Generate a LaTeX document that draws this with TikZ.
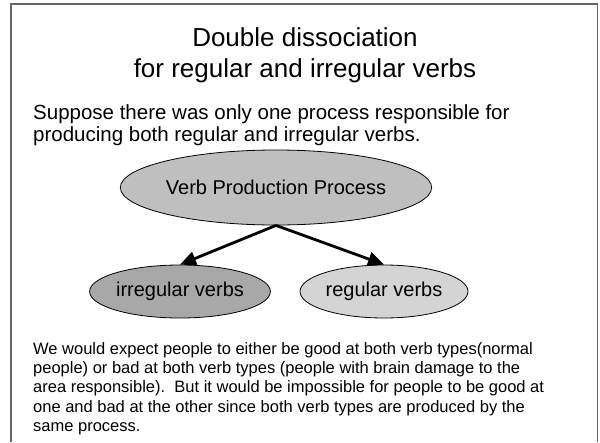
\documentclass[tikz,border=0pt]{standalone}
\usepackage{fontspec}
\setmainfont{Liberation Sans}
\usetikzlibrary{shapes.geometric,arrows.meta,positioning}

\begin{document}
\begin{tikzpicture}[x=1pt,y=-1pt,% y grows downwards, one unit per pixel
        every node/.style={inner sep=0pt},
        verb/.style={ellipse,draw,line width=0.8pt,font=\fontsize{20}{22}\selectfont},
        link/.style={line width=2.8pt,-{Triangle[length=16pt,width=14pt]}}]
\useasboundingbox (0,0) rectangle (600,442);
\draw[line width=1.6pt,draw=black!60] (11,442) -- (11,4) -- (597.5,4) -- (597.5,442); % open frame, no bottom edge
\node[anchor=north,align=center,font=\fontsize{26}{31}\selectfont] (title) at (305,27) {Double dissociation\\for regular and irregular verbs};
\node[anchor=north west,align=left,font=\fontsize{20.5}{22.5}\selectfont] (intro) at (33,104) {Suppose there was only one process responsible for\\producing both regular and irregular verbs.};
\node[verb,fill=black!25,minimum width=296pt,minimum height=75pt] (proc) at (276,187.5) {Verb Production Process};
\node[verb,fill=black!34,minimum width=161pt,minimum height=53pt] (irreg) at (180,291.5) {irregular verbs};
\node[verb,fill=black!17,minimum width=168pt,minimum height=53pt] (reg) at (384,291.5) {regular verbs};
\draw[link] (proc.south) -- (irreg.north);
\draw[link] (proc.south) -- (reg.north);
\node[anchor=north west,align=left,font=\fontsize{16.5}{19.3}\selectfont] (note) at (33,342) {We would expect people to either be good at both verb types(normal\\people) or bad at both verb types (people with brain damage to the\\area responsible).\ \ But it would be impossible for people to be good at\\one and bad at the other since both verb types are produced by the\\same process.};
\end{tikzpicture}
\end{document}
